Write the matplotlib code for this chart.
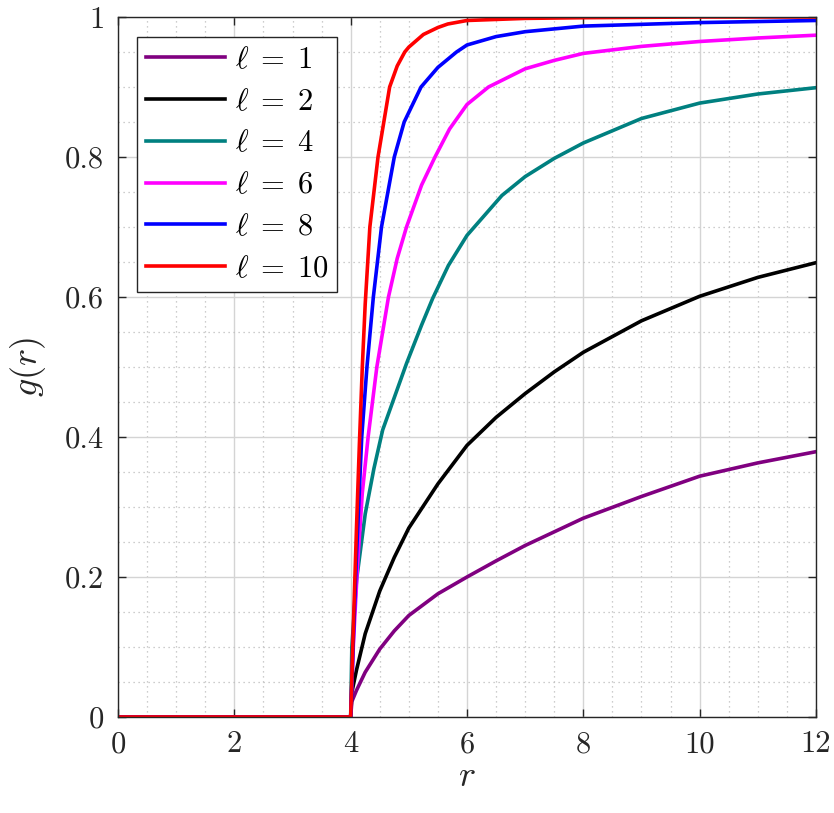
import matplotlib
matplotlib.use("Agg")
import matplotlib.pyplot as plt
from matplotlib.ticker import MultipleLocator

plt.rcParams['font.family'] = 'serif'
plt.rcParams['font.serif'] = ['cmr10']
plt.rcParams['mathtext.fontset'] = 'cm'
plt.rcParams['axes.formatter.use_mathtext'] = True

# values (r, g(r)) for each l
r_l1 = [0, 4, 4.02, 4.1, 4.25, 4.5, 4.75, 5, 5.5, 6, 6.5, 7, 8, 9, 10, 11, 12]
g_l1 = [0, 0, 0.022, 0.038, 0.064, 0.097, 0.123, 0.145, 0.176, 0.200, 0.223, 0.245, 0.284, 0.315, 0.344, 0.363, 0.379]

r_l2 = [0, 4, 4.02, 4.1, 4.25, 4.5, 4.75, 5, 5.5, 6, 6.5, 7, 7.5, 8, 9, 10, 11, 12]
g_l2 = [0, 0, 0.035, 0.067, 0.119, 0.180, 0.228, 0.270, 0.333, 0.388, 0.428, 0.462, 0.493, 0.521, 0.566, 0.601, 0.628, 0.649]

r_l4 = [0, 4, 4.02, 4.1, 4.25, 4.4, 4.55, 4.96, 5.22, 5.41, 5.68, 6, 6.6, 7, 7.5, 8, 9, 10, 11, 12]
g_l4 = [0, 0, 0.1, 0.195, 0.29, 0.355, 0.41, 0.505, 0.56, 0.598, 0.645, 0.688, 0.745, 0.772, 0.798, 0.82, 0.855, 0.877, 0.89, 0.899]

r_l6 = [0, 4, 4.05, 4.12, 4.2, 4.3, 4.45, 4.65, 4.8, 4.96, 5.22, 5.45, 5.7, 6, 6.37, 7, 7.5, 8, 9, 10, 11, 12]
g_l6 = [0, 0, 0.11, 0.22, 0.32, 0.4, 0.5, 0.6, 0.655, 0.7, 0.76, 0.8, 0.84, 0.875, 0.9, 0.926, 0.938, 0.948, 0.958, 0.965, 0.970, 0.974]

r_l8 = [0, 4, 4.05, 4.1, 4.19, 4.28, 4.39, 4.53, 4.75, 4.92, 5.21, 5.5, 5.82, 6, 6.5, 7, 8, 10, 12]
g_l8 = [0, 0, 0.12, 0.23, 0.4, 0.5, 0.6, 0.7, 0.8, 0.85, 0.9, 0.928, 0.95, 0.96, 0.972, 0.979, 0.987, 0.992, 0.995]

r_l10 = [0, 4, 4.05, 4.1, 4.15, 4.2, 4.25, 4.33, 4.47, 4.57, 4.67, 4.8, 4.93, 5.0, 5.25, 5.5, 5.67, 6, 7, 8, 10, 12]
g_l10 = [0, 0, 0.14, 0.27, 0.39, 0.5, 0.59, 0.7, 0.8, 0.85, 0.9, 0.93, 0.95, 0.957, 0.975, 0.985, 0.99, 0.995, 0.998, 0.999, 1.0, 1.0]

ells = [1, 2, 4, 6, 8, 10]
colors = ['#800080', '#000000', '#008080', '#ff00ff', '#0000ff', '#ff0000']
series = [(r_l1, g_l1), (r_l2, g_l2), (r_l4, g_l4), (r_l6, g_l6), (r_l8, g_l8), (r_l10, g_l10)]

x_ticks = [0, 2, 4, 6, 8, 10, 12]
y_ticks = [0, 0.2, 0.4, 0.6, 0.8, 1]
y_tick_labels = ['0', '0.2', '0.4', '0.6', '0.8', '1']

fig = plt.figure(figsize=(8.34, 8.13), dpi=100)
ax = fig.add_axes([0.1415, 0.1181, 0.8369, 0.861])

for ell, col, (rr, gg) in zip(ells, colors, series):
    ax.plot(rr, gg, color=col, lw=2.6, label=r'$\ell\;=\;%d$' % ell,
            solid_joinstyle='round')

ax.set_xlim(0, 12)
ax.set_ylim(0, 1)
ax.set_xticks(x_ticks)
ax.set_xticklabels([str(t) for t in x_ticks])
ax.set_yticks(y_ticks)
ax.set_yticklabels(y_tick_labels)
ax.xaxis.set_minor_locator(MultipleLocator(0.5))
ax.yaxis.set_minor_locator(MultipleLocator(0.05))

ax.grid(True, which='major', color='#d4d4d4', lw=1.0, ls='-')
ax.grid(True, which='minor', color='#bdbdbd', lw=0.9, ls=(0, (1, 3)))
ax.set_axisbelow(True)

ax.tick_params(which='major', direction='in', length=6, width=1, top=True, right=True,
               labelsize=22, colors='#262626', pad=10)
ax.tick_params(which='minor', length=0)
for sp in ax.spines.values():
    sp.set_color('#262626')
    sp.set_linewidth(1.0)

ax.set_xlabel(r'$r$', fontsize=26, color='#262626', labelpad=2)
ax.set_ylabel(r'$g(r)$', fontsize=26, color='#262626', labelpad=12)

leg = ax.legend(loc='upper left', bbox_to_anchor=(0.027, 0.971), borderaxespad=0,
                fontsize=22, handlelength=2.6, handletextpad=0.3, labelspacing=0.47,
                frameon=True, fancybox=False, edgecolor='#262626', framealpha=1,
                borderpad=0.3)
leg.get_frame().set_linewidth(1.0)

fig.savefig('out.png', dpi=100)
